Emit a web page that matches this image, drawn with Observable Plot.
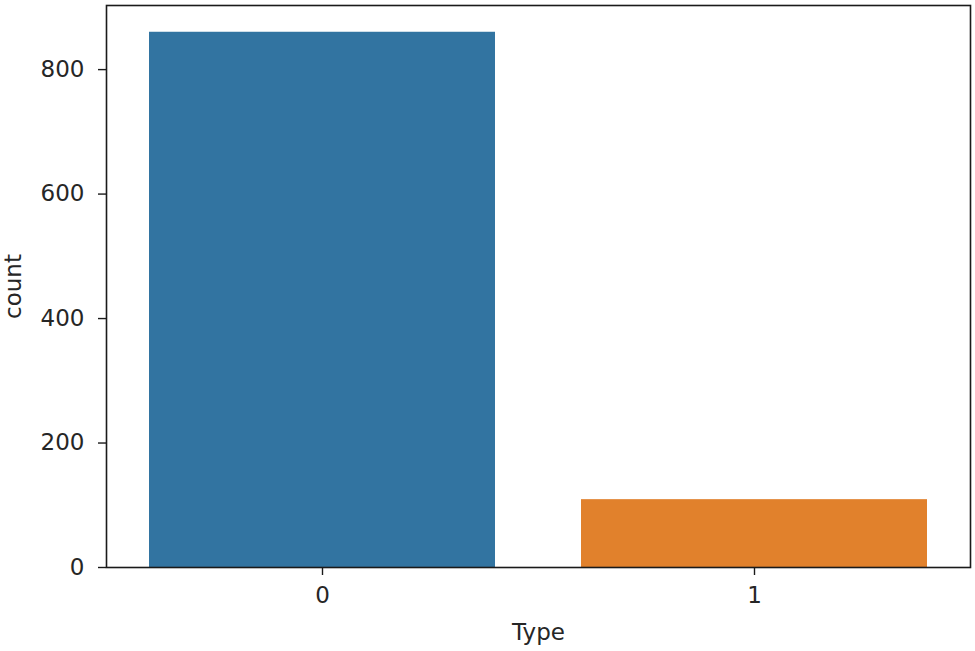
<!DOCTYPE html>
<html>
<head>
<meta charset="utf-8">
<script src="https://cdn.jsdelivr.net/npm/d3@7"></script>
<script src="https://cdn.jsdelivr.net/npm/@observablehq/plot@0.6"></script>
<style>
  html, body { margin: 0; padding: 0; background: #fff; }
</style>
</head>
<body>
<div id="chart"></div>
<script>
const types = ["0", "1"];
const counts = [860, 109];
const barColors = ["#3274a1", "#e1812c"];
const yTicks = [0, 200, 400, 600, 800];
const xTitle = "Type";
const yTitle = "count";

const data = types.map((t, i) => ({type: t, count: counts[i], color: barColors[i]}));

const chart = Plot.plot({
  width: 975,
  height: 651,
  marginLeft: 106,
  marginRight: 5,
  marginTop: 5,
  marginBottom: 84,
  style: {fontFamily: "DejaVu Sans", fontSize: "23px", color: "#262626", background: "#fff"},
  x: {domain: types, paddingInner: 0.2, paddingOuter: 0.1, label: null},
  y: {domain: [0, 903], label: null},
  marks: [
    Plot.barY(data, {x: "type", y: "count", fill: "color"}),
    Plot.frame({stroke: "#1a1a1a", strokeWidth: 1.6}),
    Plot.axisX({tickSize: 8, tickPadding: 11, label: null, stroke: "#1a1a1a", strokeWidth: 1.4}),
    Plot.axisY({ticks: yTicks, tickSize: 8, tickPadding: 14, label: null, stroke: "#1a1a1a", strokeWidth: 1.4}),
    Plot.text([xTitle], {frameAnchor: "bottom", dy: 65, text: d => d, textAnchor: "middle", lineAnchor: "middle", fill: "#262626"}),
    Plot.text([yTitle], {frameAnchor: "left", dx: -93, text: d => d, rotate: -90, textAnchor: "middle", lineAnchor: "middle", fill: "#262626"})
  ]
});
document.getElementById("chart").appendChild(chart);
</script>
</body>
</html>
